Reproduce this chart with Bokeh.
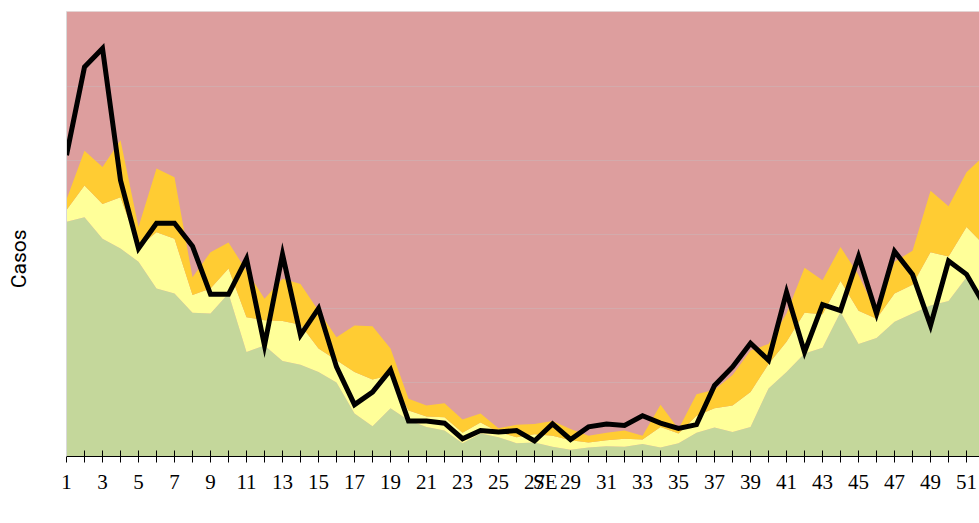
from bokeh.plotting import figure
from bokeh.models import (Range1d, Legend, LegendItem, FixedTicker,
                          ColumnDataSource, Span)
from bokeh.embed import file_html
from bokeh.resources import INLINE

# --- data ---
weeks = list(range(1, 53))
exito = [317, 323, 294, 281, 263, 227, 220, 194, 193, 220,
         141, 150, 129, 124, 114, 100, 58, 41, 65, 49,
         40, 35, 18, 31, 26, 18, 19, 13, 9, 12,
         14, 13, 17, 12, 18, 32, 39, 33, 40, 92,
         114, 139, 147, 195, 152, 160, 182, 193, 204, 210,
         242, 205]
seguridad = [16, 43, 47, 69, 20, 76, 74, 24, 34, 34,
             47, 34, 54, 54, 32, 30, 56, 63, 45, 13,
             14, 18, 14, 15, 7, 8, 11, 15, 13, 7,
             8, 11, 6, 28, 13, 23, 26, 36, 47, 33,
             41, 55, 45, 42, 45, 26, 38, 39, 72, 60,
             68, 80]
alerta = [14, 47, 50, 77, 27, 86, 83, 24, 49, 35,
          63, 29, 57, 55, 51, 31, 63, 72, 36, 16,
          15, 19, 18, 12, 5, 17, 14, 20, 15, 9,
          10, 11, 5, 30, 6, 29, 25, 41, 56, 27,
          38, 61, 46, 46, 48, 8, 43, 46, 83, 68,
          74, 122]
series4 = [407, 526, 551, 373, 281, 315, 315, 284, 219, 219,
           267, 150, 273, 164, 200, 121, 70, 87, 117, 48,
           48, 45, 24, 35, 33, 35, 21, 44, 23, 40,
           44, 42, 55, 45, 38, 43, 96, 121, 153, 130,
           222, 141, 205, 197, 270, 193, 277, 246, 177, 264,
           246, 204]
label_weeks = [w for w in weeks if w % 2 == 1]
x_title = "SE"
x_title_pos = 27.6
y_title = "Casos"
y_title_pos = 267
grid_values = [100, 200, 300, 400, 500]

src = ColumnDataSource(dict(se=weeks, exito=exito, seguridad=seguridad,
                            alerta=alerta, series4=series4))

SERIF = "Liberation Serif"

p = figure(width=979, height=523, frame_width=913, frame_height=445,
           output_backend="svg", toolbar_location=None,
           x_range=Range1d(1, 51.72), y_range=Range1d(0, 601),
           min_border_left=66, min_border_top=11, min_border_right=0,
           min_border_bottom=0,
           background_fill_color="#DD9E9E", border_fill_color="white",
           outline_line_color=None)

areas = p.varea_stack(["exito", "seguridad", "alerta"], x="se", source=src,
                      color=["#C4D79B", "#FFFF99", "#FFCC33"])
ln = p.line("se", "series4", source=src, line_color="black", line_width=5,
            line_join="miter")

# grid
p.xgrid.visible = False
p.ygrid.ticker = FixedTicker(ticks=grid_values)
p.ygrid.grid_line_color = "#D3ABAC"
p.ygrid.grid_line_width = 1

# y axis: light line plus the "Casos" title as its single label
p.yaxis.ticker = FixedTicker(ticks=[y_title_pos])
p.yaxis.major_label_overrides = {y_title_pos: y_title}
p.yaxis.major_label_orientation = "vertical"
p.yaxis.major_label_text_font = "Roboto"
p.yaxis.major_label_text_font_size = "21px"
p.yaxis.major_label_text_color = "black"
p.yaxis.major_label_standoff = 35
p.yaxis.axis_line_color = "#D9D9D9"
p.yaxis.major_tick_line_color = None
p.yaxis.major_tick_in = 0
p.yaxis.major_tick_out = 0
p.yaxis.minor_tick_line_color = None
p.yaxis.axis_label = None

p.add_layout(Span(location=601, dimension="width", line_color="#D9D9D9",
                  line_width=1))

# x axis: tick marks at every week (minor), labels at odd weeks + "SE"
x_ticks = label_weeks + [x_title_pos]
x_labels = {w: str(w) for w in label_weeks}
x_labels[x_title_pos] = x_title
p.xaxis.ticker = FixedTicker(ticks=x_ticks, minor_ticks=weeks)
p.xaxis.major_label_overrides = x_labels
p.xaxis.major_tick_line_color = None
p.xaxis.major_tick_in = 0
p.xaxis.major_tick_out = 6
p.xaxis.minor_tick_in = 6
p.xaxis.minor_tick_out = 6
p.xaxis.minor_tick_line_color = "black"
p.xaxis.axis_line_color = "black"
p.xaxis.major_label_text_font = SERIF
p.xaxis.major_label_text_font_size = "21px"
p.xaxis.major_label_text_color = "black"
p.xaxis.major_label_standoff = 7
p.xaxis.axis_label = None

legend = Legend(items=[LegendItem(label="Exito", renderers=[areas[0]]),
                       LegendItem(label="Seguridad", renderers=[areas[1]]),
                       LegendItem(label="Alerta", renderers=[areas[2]]),
                       LegendItem(label="Series4", renderers=[ln])],
                orientation="horizontal", location="top_center",
                label_text_font=SERIF, label_text_font_size="19px",
                label_text_color="black", label_height=18,
                glyph_width=47, glyph_height=10, label_standoff=5,
                spacing=26, padding=0, margin=6,
                border_line_color=None, background_fill_alpha=0)
p.add_layout(legend, "below")

open("out.html", "w").write(file_html(p, INLINE))
